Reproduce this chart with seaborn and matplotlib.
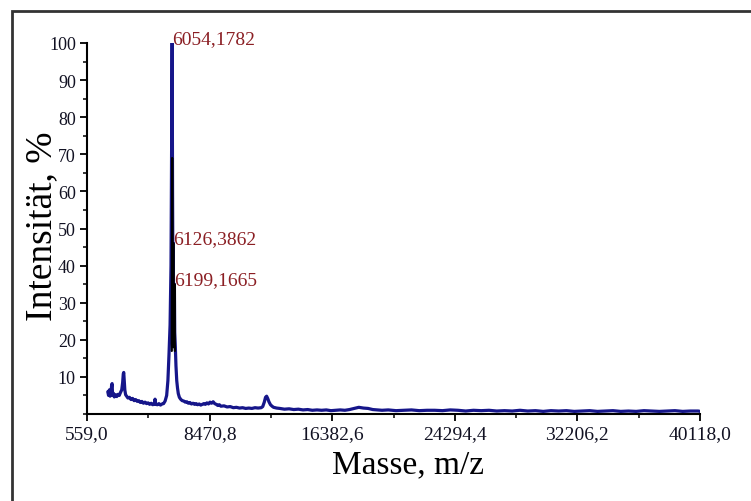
import matplotlib
matplotlib.use("Agg")
import matplotlib.pyplot as plt
import matplotlib.patches as mpatches
from matplotlib.ticker import FixedLocator, MultipleLocator
import seaborn as sns
import pandas as pd

# ---------------- data ----------------
mass = [1900, 1950, 2000, 2050, 2100, 2150, 2180, 2210, 2260, 2320, 2400, 2480, 2560,
        2640, 2720, 2800, 2860, 2900, 2930, 2960, 3000, 3050, 3120, 3200, 3300, 3400,
        3500, 3600, 3700, 3800, 3900, 4000, 4100, 4200, 4300, 4400, 4500, 4600, 4700,
        4800, 4900, 4950, 4990, 5100, 5200, 5300, 5400, 5500, 5600, 5700, 5780, 5850,
        5920, 5980, 6020, 6054, 6080, 6110, 6126, 6150, 6180, 6199, 6220, 6260, 6300,
        6350, 6400, 6450, 6520, 6600, 6700, 6800, 6900, 7000, 7100, 7200, 7300, 7400,
        7500, 7600, 7700, 7800, 7900, 8000, 8100, 8200, 8300, 8400, 8500, 8600, 8700,
        8800, 8900, 9000, 9100, 9200, 9400, 9600, 9800, 10000, 10200, 10400, 10600,
        10800, 11000, 11200, 11400, 11600, 11800, 11900, 12000, 12080, 12150, 12220,
        12300, 12400, 12500, 12600, 12800, 13000, 13300, 13600, 13900, 14200, 14500,
        14800, 15100, 15400, 15700, 16000, 16300, 16600, 16900, 17200, 17500, 17800,
        18100, 18400, 18700, 19000, 19300, 19600, 20000, 20500, 21000, 21500, 22000,
        22500, 23000, 23500, 24000, 24500, 25000, 25500, 26000, 26500, 27000, 27500,
        28000, 28500, 29000, 29500, 30000, 30500, 31000, 31500, 32000, 32500, 33000,
        33500, 34000, 34500, 35000, 35500, 36000, 36500, 37000, 37500, 38000, 38500,
        39000, 39500, 40000, 40118]
intensity = [6.0, 5.0, 6.5, 4.8, 5.5, 7.8, 8.2, 5.0, 5.6, 4.6, 5.2, 4.7, 5.3,
             5.0, 5.8, 6.5, 8.5, 10.8, 11.2, 9.0, 6.5, 5.2, 4.8, 4.3, 4.5, 3.9,
             4.2, 3.6, 3.9, 3.4, 3.6, 3.1, 3.4, 2.9, 3.2, 2.8, 3.0, 2.6, 2.9,
             2.5, 2.7, 4.0, 2.6, 2.5, 2.8, 2.4, 2.7, 2.8, 3.5, 5.0, 9.0, 16.0,
             24.0, 40.0, 70.0, 100.0, 60.0, 30.0, 46.0, 25.0, 20.0, 35.0, 22.0, 18.0, 13.0,
             9.0, 7.0, 5.5, 4.5, 4.0, 3.6, 3.5, 3.2, 3.3, 2.9, 3.1, 2.7, 2.9,
             2.6, 2.8, 2.5, 2.7, 2.4, 2.6, 2.8, 2.6, 3.0, 2.7, 3.2, 2.9, 3.3,
             2.8, 2.6, 2.3, 2.5, 2.1, 2.2, 1.9, 2.0, 1.7, 1.8, 1.6, 1.7,
             1.5, 1.6, 1.5, 1.7, 1.6, 1.7, 2.0, 3.2, 4.5, 4.8, 4.2,
             3.3, 2.5, 2.1, 1.8, 1.6, 1.5, 1.3, 1.4, 1.2, 1.3, 1.1,
             1.2, 1.0, 1.1, 1.0, 1.1, 0.9, 1.0, 1.1, 1.0, 1.2, 1.5,
             1.8, 1.6, 1.5, 1.2, 1.1, 1.0, 1.1, 0.9, 1.0, 1.1, 0.9,
             1.0, 1.0, 0.9, 1.1, 1.0, 0.8, 1.0, 0.9, 1.0, 0.8, 0.9,
             0.8, 1.0, 0.8, 0.9, 0.7, 0.9, 0.8, 0.9, 0.7, 0.8, 0.9,
             0.7, 0.8, 0.9, 0.7, 0.8, 0.7, 0.9, 0.8, 0.7, 0.8, 0.9,
             0.7, 0.8, 0.8, 0.7]

# black overlay trace around the main peak
overlay_mass = [6030, 6054, 6090, 6126, 6160, 6199, 6230]
overlay_int = [17, 69, 20, 46, 18, 35, 17]

# annotated peaks
peak_mass = [6054.1782, 6126.3862, 6199.1665]
peak_int = [100, 46, 35]
peak_labels = ["6054,1782", "6126,3862", "6199,1665"]

xtick_vals = [559.0, 8470.8, 16382.6, 24294.4, 32206.2, 40118.0]
xtick_labels = ["559,0", "8470,8", "16382,6", "24294,4", "32206,2", "40118,0"]
ytick_vals = [10, 20, 30, 40, 50, 60, 70, 80, 90, 100]

xlabel = "Masse, m/z"
ylabel = "Intensität, %"

# ---------------- style ----------------
sns.set_style("ticks")
plt.rcParams["font.family"] = ["Liberation Serif", "DejaVu Serif"]

fig = plt.figure(figsize=(7.51, 5.02), dpi=100)
ax = fig.add_axes([87 / 751, 87 / 502, 613 / 751, 371 / 502])

df = pd.DataFrame({"mass": mass, "intensity": intensity})
sns.lineplot(data=df, x="mass", y="intensity", ax=ax, color="#16168a",
             linewidth=2.3, sort=False, estimator=None)
df2 = pd.DataFrame({"mass": overlay_mass, "intensity": overlay_int})
sns.lineplot(data=df2, x="mass", y="intensity", ax=ax, color="black",
             linewidth=1.6, sort=False, estimator=None)

ax.set_xlim(xtick_vals[0], xtick_vals[-1])
ax.set_ylim(0, 100)

ax.xaxis.set_major_locator(FixedLocator(xtick_vals))
ax.set_xticklabels(xtick_labels, fontsize=14, color="#111122")
minor_x = [(a + b) / 2 for a, b in zip(xtick_vals[:-1], xtick_vals[1:])]
ax.xaxis.set_minor_locator(FixedLocator(minor_x))

ax.yaxis.set_major_locator(FixedLocator(ytick_vals))
ax.set_yticklabels([str(v) for v in ytick_vals], fontsize=13, color="#111122")
ax.yaxis.set_minor_locator(MultipleLocator(5))

ax.tick_params(axis="both", which="major", length=5, width=1.3, color="black", pad=3)
ax.tick_params(axis="both", which="minor", length=3, width=1.1, color="black")

for s in ["top", "right"]:
    ax.spines[s].set_visible(False)
for s in ["left", "bottom"]:
    ax.spines[s].set_linewidth(1.5)
    ax.spines[s].set_color("black")

ax.set_xlabel(xlabel, fontsize=24, color="black")
ax.set_ylabel(ylabel, fontsize=27, color="black")
ax.xaxis.set_label_coords(0.524, -0.093)
ax.yaxis.set_label_coords(-0.046, 0.51)

for m, v, lab in zip(peak_mass, peak_int, peak_labels):
    ax.text(m, v, lab, ha="left", va="baseline", fontsize=14,
            color="#8b1f24", clip_on=False)

# outer frame
frame = mpatches.Rectangle((12 / 751, -0.05), 1.1, 0.05 + (502 - 11.5) / 502,
                           transform=fig.transFigure, fill=False,
                           edgecolor="#333333", linewidth=2.0, clip_on=False)
fig.patches.append(frame)

fig.savefig("out.png", dpi=100)
